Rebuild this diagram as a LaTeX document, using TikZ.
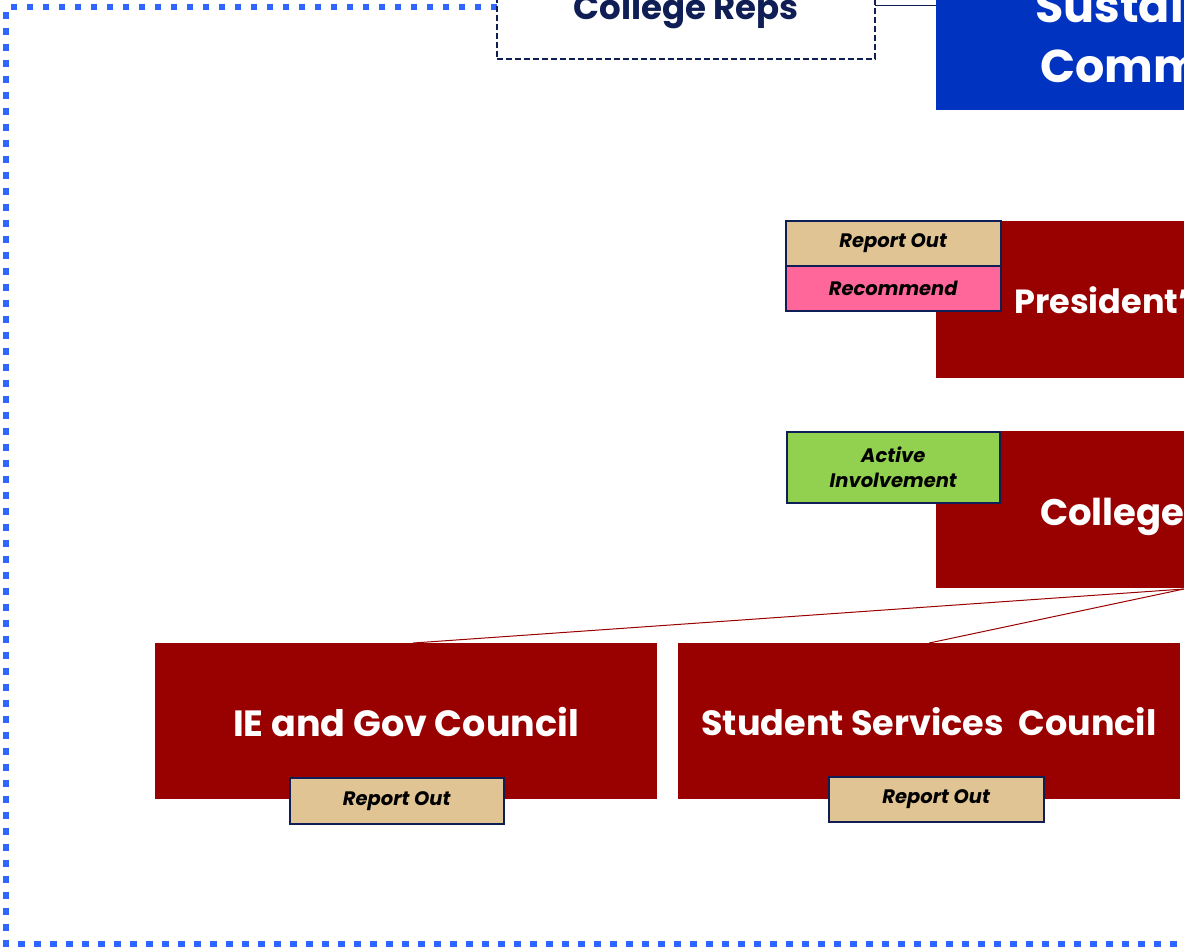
\documentclass[tikz,border=0pt]{standalone}
\usepackage{fontspec}
\setmainfont{Poppins}
\definecolor{dred}{HTML}{990000}
\definecolor{dblue}{HTML}{0033BF}
\definecolor{navy}{HTML}{0F1F55}
\definecolor{dotblue}{HTML}{2F66FF}
\definecolor{tan}{HTML}{E0C494}
\definecolor{pink}{HTML}{FF6699}
\definecolor{lgreen}{HTML}{92D050}
\tikzset{
  redbox/.style={fill=dred, draw=none},
  tag/.style={draw=navy, line width=1.5pt, font=\bfseries\itshape\fontsize{19.5}{22}\selectfont, text=black, align=center, inner sep=0pt},
  bigtxt/.style={text=white, font=\bfseries\fontsize{35}{40}\selectfont, inner sep=0pt},
  link/.style={draw=dred, line width=1pt},
}
\begin{document}
\begin{tikzpicture}[x=1pt,y=-1pt]
\useasboundingbox (0,0) rectangle (1184,951);
\clip (0,0) rectangle (1184,951);
% dotted border
\draw[dotblue, line width=6.5pt, dash pattern=on 6.5pt off 9.5pt] (497,7) -- (6,7) -- (6,944) -- (1200,944);
% College Reps
\node[draw=navy, dash pattern=on 6pt off 3pt, line width=1.6pt, fill=white, minimum width=378pt, minimum height=130pt, inner sep=0pt] (reps) at (686,-6) {};
\node[text=navy, font=\bfseries\fontsize{34}{38}\selectfont, inner sep=0pt, anchor=base] (repst) at (686,19) {College Reps};
% Sustainability committee
\node[fill=dblue, minimum width=400pt, minimum height=220pt, inner sep=0pt, anchor=north west] (sust) at (936,-110) {};
\node[text=white, font=\bfseries\fontsize{46}{50}\selectfont, anchor=base west, inner sep=0pt] (sust1) at (1035,22) {Sustainability};
\node[text=white, font=\bfseries\fontsize{46}{50}\selectfont, anchor=base west, inner sep=0pt] (sust2) at (1040,82) {Committee};
\draw[navy, line width=1pt] (875,5) -- (936,5);
% President's
\node[redbox, minimum width=400pt, minimum height=157pt, inner sep=0pt, anchor=north west] (pres) at (936,221) {};
\node[bigtxt, anchor=base west, font=\bfseries\fontsize{33.5}{40}\selectfont] (prest) at (1014,313) {President’s};
\node[tag, fill=tan, minimum width=215pt, minimum height=45pt, anchor=north west] (ro1) at (785,220) {Report Out};
\node[tag, fill=pink, minimum width=215pt, minimum height=45pt, anchor=north west] (rec) at (785,265) {Recommend};
% College
\node[redbox, minimum width=400pt, minimum height=157pt, inner sep=0pt, anchor=north west] (coll) at (936,431) {};
\node[bigtxt, anchor=base west, font=\bfseries\fontsize{37}{40}\selectfont] (collt) at (1040,525) {College};
\node[tag, fill=lgreen, minimum width=213pt, minimum height=71pt, anchor=north west, font=\bfseries\itshape\fontsize{19.5}{25}\selectfont] (act) at (786,431) {Active\\Involvement};
% councils
\node[redbox, minimum width=502pt, minimum height=156pt, inner sep=0pt, anchor=north west] (ie) at (155,643) {};
\node[bigtxt, font=\bfseries\fontsize{36.5}{40}\selectfont] (iet) at (406,722) {IE and Gov Council};
\node[redbox, minimum width=502pt, minimum height=156pt, inner sep=0pt, anchor=north west] (ss) at (678,643) {};
\node[bigtxt] (sst) at (929,722) {Student Services\ \ Council};
\node[tag, fill=tan, minimum width=214pt, minimum height=46pt, anchor=north west] (ro2) at (289,777) {Report Out};
\node[tag, fill=tan, minimum width=215pt, minimum height=45pt, anchor=north west] (ro3) at (828,776) {Report Out};
% connectors
\coordinate (cfrom) at (1184,589);
\draw[link] (cfrom) -- ([xshift=7pt]ie.north);
\draw[link] (cfrom) -- (ss.north);
\end{tikzpicture}
\end{document}
